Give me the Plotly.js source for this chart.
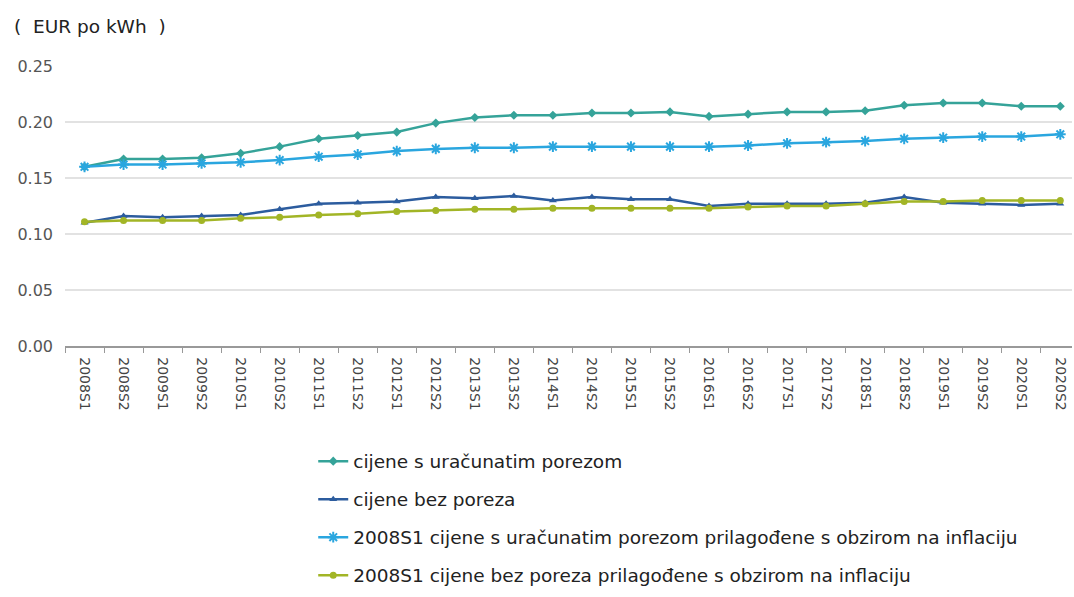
<!DOCTYPE html>
<html>
<head>
<meta charset="utf-8">
<script src="https://cdn.plot.ly/plotly-3.0.1.min.js"></script>
<style>html,body{margin:0;padding:0;background:#fff;}#chart{width:1074px;height:597px;}</style>
</head>
<body>
<div id="chart"></div>
<script>
const periods = ["2008S1","2008S2","2009S1","2009S2","2010S1","2010S2","2011S1","2011S2","2012S1","2012S2","2013S1","2013S2","2014S1","2014S2","2015S1","2015S2","2016S1","2016S2","2017S1","2017S2","2018S1","2018S2","2019S1","2019S2","2020S1","2020S2"];
const withTax = [0.160,0.167,0.167,0.168,0.172,0.178,0.185,0.188,0.191,0.199,0.204,0.206,0.206,0.208,0.208,0.209,0.205,0.207,0.209,0.209,0.210,0.215,0.217,0.217,0.214,0.214];
const withoutTax = [0.110,0.116,0.115,0.116,0.117,0.122,0.127,0.128,0.129,0.133,0.132,0.134,0.130,0.133,0.131,0.131,0.125,0.127,0.127,0.127,0.128,0.133,0.128,0.127,0.126,0.127];
const withTaxReal = [0.160,0.162,0.162,0.163,0.164,0.166,0.169,0.171,0.174,0.176,0.177,0.177,0.178,0.178,0.178,0.178,0.178,0.179,0.181,0.182,0.183,0.185,0.186,0.187,0.187,0.189];
const withoutTaxReal = [0.111,0.112,0.112,0.112,0.114,0.115,0.117,0.118,0.120,0.121,0.122,0.122,0.123,0.123,0.123,0.123,0.123,0.124,0.125,0.125,0.127,0.129,0.129,0.130,0.130,0.130];
const seriesNames = ["cijene s uračunatim porezom","cijene bez poreza","2008S1 cijene s uračunatim porezom prilagođene s obzirom na inflaciju","2008S1 cijene bez poreza prilagođene s obzirom na inflaciju"];

const colors = ["#35a399","#2c5c9e","#2aa6df","#a2b526"];
const symbols = ["diamond","triangle-up","asterisk-open","circle"];
const data = [withTax, withoutTax, withTaxReal, withoutTaxReal];

const traces = data.map((ys, i) => ({
  type: "scatter",
  mode: "lines+markers",
  x: periods,
  y: ys,
  name: seriesNames[i],
  legendgroup: "g" + i,
  line: {color: colors[i], width: 2.5},
  marker: {color: colors[i], symbol: symbols[i], size: i === 2 ? 9 : 7, line: {color: colors[i], width: i === 2 ? 2 : 0}},
  hoverinfo: "x+y"
}));

const layout = {
  width: 1074, height: 597,
  margin: {l: 65, r: 2, t: 66, b: 249},
  paper_bgcolor: "#fff", plot_bgcolor: "#fff",
  font: {family: "DejaVu Sans, Verdana, sans-serif", color: "#444"},
  showlegend: true,
  legend: {
    orientation: "v", x: 0.2465, xanchor: "left", y: -0.345, yanchor: "top",
    font: {family: "DejaVu Sans, Verdana, sans-serif", size: 18.5, color: "#222"},
    tracegroupgap: 11, bgcolor: "rgba(0,0,0,0)"
  },
  xaxis: {
    type: "category", range: [-0.5, 25.3], tickangle: 90,
    tickson: "boundaries", ticks: "outside", ticklen: 5, tickcolor: "#999",
    showline: true, linecolor: "#999", linewidth: 1.5,
    showgrid: false, zeroline: false, ticklabelstandoff: 7,
    tickfont: {size: 14, color: "#444"}
  },
  yaxis: {
    range: [0, 0.25], dtick: 0.05, tickformat: ".2f",
    showgrid: true, gridcolor: "#e2e2e2", gridwidth: 1.5,
    zeroline: false, showline: false, ticks: "", ticklabelstandoff: 11,
    tickfont: {size: 16, color: "#555"}
  },
  annotations: [{
    text: "(  EUR po kWh  )", xref: "paper", yref: "paper",
    x: -0.053, y: 1.14, xanchor: "left", yanchor: "middle", showarrow: false,
    font: {family: "DejaVu Sans, Verdana, sans-serif", size: 18.5, color: "#222"}
  }]
};

Plotly.newPlot("chart", traces, layout, {displayModeBar: false, staticPlot: true});
</script>
</body>
</html>
